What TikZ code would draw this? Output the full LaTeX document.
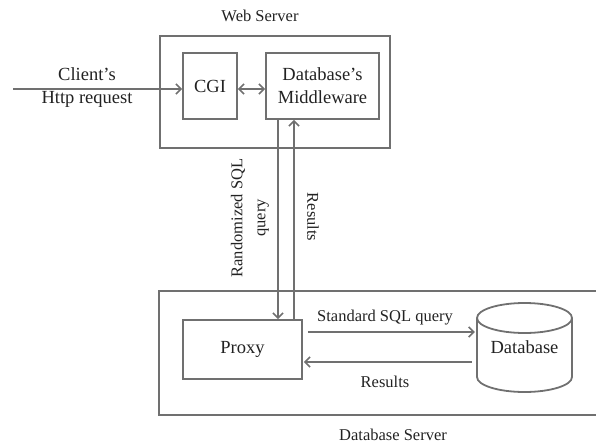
\documentclass[tikz,border=0pt]{standalone}
\usepackage{fontspec}
\setmainfont{Liberation Serif}
\usetikzlibrary{arrows.meta}
\definecolor{edge}{HTML}{707070}
\definecolor{ink}{HTML}{222222}
\tikzset{
  frame/.style={draw=edge, line width=2pt},
  block/.style={draw=edge, line width=1.8pt, font=\fontsize{18.5}{23}\selectfont, text=ink, align=center, inner sep=0pt},
  note/.style={font=\fontsize{16.5}{23}\selectfont, text=ink, align=center, inner sep=0pt},
  flow/.style={draw=edge, line width=1.6pt, -{Straight Barb[length=5pt,width=10pt,line width=1.6pt]}},
  flow2/.style={draw=edge, line width=1.6pt, {Straight Barb[length=5pt,width=10pt,line width=1.6pt]}-{Straight Barb[length=5pt,width=10pt,line width=1.6pt]}}
}
\begin{document}
\begin{tikzpicture}[x=1pt,y=-1pt]
\useasboundingbox (0,0) rectangle (596,444);

% server frames
\draw[frame] (160,36) rectangle (390,148);
\draw[frame] (159,291) rectangle (610,415);
\node[note] (ws) at (260,16) {Web Server};
\node[note] (dbs) at (393,435) {Database Server};

% web server components
\node[block, minimum width=54pt, minimum height=66pt] (cgi) at (210,86) {CGI};
\node[block, minimum width=113pt, minimum height=66pt] (mid) at (322.5,86) {Database’s\\Middleware};

% database server components
\node[block, minimum width=119pt, minimum height=59pt] (proxy) at (242.5,349.5) {Proxy};
\node[inner sep=0pt, minimum width=95pt, minimum height=89pt, font=\fontsize{18.5}{23}\selectfont, text=ink] (db) at (524.5,347) {Database};
% cylinder outline of the database
\draw[draw=edge, line width=1.8pt]
  (477,318) arc[start angle=180, end angle=-180, x radius=47.5pt, y radius=15pt]
  (477,318) -- (477,377) arc[start angle=180, end angle=360, x radius=47.5pt, y radius=15pt] -- (572,318);

% incoming request
\coordinate (src) at (13,89);
\node[note, font=\fontsize{18.5}{23}\selectfont] (req) at (87,88) {Client’s\\Http request};
\draw[flow] (src) -- (src -| cgi.west);
\coordinate (lane) at (0,89);
\draw[flow2] (cgi.east |- lane) -- (mid.west |- lane);

% links between the two servers
\coordinate (dn) at (278,0);
\coordinate (up) at (294,0);
\draw[flow] (mid.south -| dn) -- (proxy.north -| dn);
\draw[flow] (proxy.north -| up) -- (mid.south -| up);
\node[note, rotate=90] (rq) at (250,218) {Randomized SQL\\query};
\node[note, rotate=-90] (res1) at (313,217) {Results};

% proxy <-> database
\coordinate (q) at (0,332);
\coordinate (r) at (0,362);
\draw[flow] ([xshift=5pt]proxy.east |- q) -- ([xshift=-2pt]db.west |- q);
\draw[flow] ([xshift=-5pt]db.west |- r) -- ([xshift=1pt]proxy.east |- r);
\node[note] (sq) at (385,318) {Standard SQL query};
\node[note] (res2) at (385,382) {Results};
\end{tikzpicture}
\end{document}
